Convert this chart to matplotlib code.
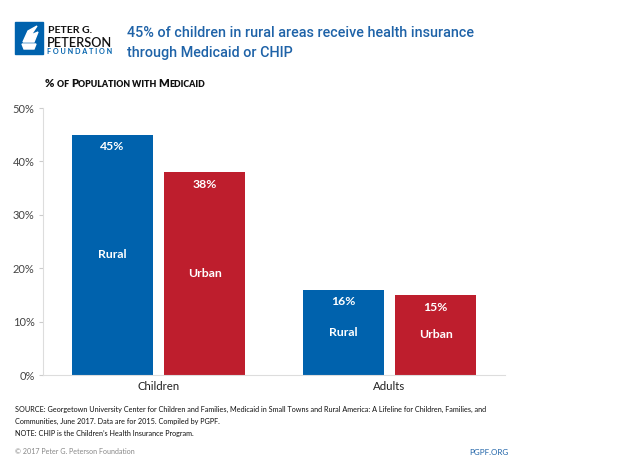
import matplotlib
matplotlib.use('Agg')
import matplotlib.pyplot as plt
from matplotlib.patches import Rectangle, Polygon

plt.rcParams['font.family'] = ['Lato', 'DejaVu Sans']

# data
groups = ['Children', 'Adults']
series = ['Rural', 'Urban']
rural = [45, 16]
urban = [38, 15]
yticks = [0, 10, 20, 30, 40, 50]
ytick_labels = ['0%', '10%', '20%', '30%', '40%', '50%']

BLUE = '#0062ad'
RED = '#be1e2d'
TITLE_BLUE = '#1f63a8'
GREY = '#444444'
W, H = 620, 465

fig = plt.figure(figsize=(6.2, 4.65), dpi=100)
ax = fig.add_axes([43 / W, 1 - 375 / H, 462 / W, 267 / H])
renderer = fig.canvas.get_renderer()


def fx(px):
    return px / W


def fy(px):
    return 1 - px / H


def fit(t, target):
    """Scale the font of t so its width is target pixels."""
    bb = t.get_window_extent(renderer)
    t.set_fontsize(t.get_fontsize() * target / bb.width)
    return t


xs = range(len(groups))
width = 0.35
off = 0.2
for vals, color, name, sign in ((rural, BLUE, 'Rural', -1), (urban, RED, 'Urban', 1)):
    pos = [x + sign * off for x in xs]
    ax.bar(pos, vals, width=width, color=color, zorder=2)
    for p, v in zip(pos, vals):
        ax.text(p, v - 2.3, '%d%%' % v, ha='center', va='center',
                color='white', fontsize=8.8, fontweight='bold')
        ax.text(p, v / 2.0, name, ha='center', va='center',
                color='white', fontsize=8.8, fontweight='bold')

ax.set_xlim(-0.5, 1.5)
ax.set_ylim(0, 50)
ax.set_yticks(yticks)
ax.set_yticklabels(ytick_labels, fontsize=8, color=GREY)
ax.set_xticks(list(xs))
ax.set_xticklabels(groups, fontsize=8.2, color='#222222')
ax.tick_params(axis='y', length=3, color='#cccccc', pad=3)
ax.tick_params(axis='x', length=0, pad=4)
for s in ('top', 'right'):
    ax.spines[s].set_visible(False)
ax.spines['left'].set_color('#dddddd')
ax.spines['bottom'].set_color('#dddddd')

# logo
fig.patches.append(Rectangle((fx(15), fy(54)), 28 / W, 32 / H,
                             transform=fig.transFigure, color=BLUE))
fig.patches.append(Polygon([(fx(22), fy(44)), (fx(36), fy(44)),
                            (fx(34), fy(49)), (fx(24), fy(49))],
                           closed=True, transform=fig.transFigure, color='white'))
fig.patches.append(Polygon([(fx(23), fy(42)), (fx(28), fy(31)),
                            (fx(37), fy(26)), (fx(31), fy(35)),
                            (fx(38), fy(32)), (fx(34), fy(42))],
                           closed=True, transform=fig.transFigure, color='white'))
fit(fig.text(fx(48), fy(33), 'PETER G.', fontsize=8, fontweight='bold',
             color='#111111', va='baseline'), 44)
fit(fig.text(fx(47), fy(47), 'PETERSON', fontsize=10, fontweight='semibold',
             color='#111111', va='baseline'), 65)
fit(fig.text(fx(47), fy(54), 'F O U N D A T I O N', fontsize=4.5,
             fontweight='bold', color=BLUE, va='baseline'), 65)

# title
t1 = fig.text(fx(127), fy(37),
              '45% of children in rural areas receive health insurance',
              fontsize=12, color=TITLE_BLUE, va='baseline', family='Roboto',
              fontweight='medium')
fit(t1, 348)
fig.text(fx(127), fy(57), 'through Medicaid or CHIP',
         fontsize=t1.get_fontsize(), color=TITLE_BLUE, va='baseline',
         family='Roboto', fontweight='medium')

# small caps subtitle
parts = [('% ', 9), ('OF ', 7), ('P', 9), ('OPULATION ', 7), ('WITH ', 7),
         ('M', 9), ('EDICAID', 7)]
texts = [fig.text(0, fy(87), txt, fontsize=size, fontweight='heavy',
                  color='#111111', va='baseline') for txt, size in parts]
total = sum(t.get_window_extent(renderer).width for t in texts)
x = 45.0
for t in texts:
    t.set_fontsize(t.get_fontsize() * 160 / total)
    t.set_x(fx(x))
    x += t.get_window_extent(renderer).width

# footer
src1 = fig.text(fx(15), fy(412),
                'SOURCE: Georgetown University Center for Children and Families, Medicaid in Small Towns and Rural America: A Lifeline for Children, Families, and',
                fontsize=6, color='#111111', va='baseline')
fit(src1, 472)
fs = src1.get_fontsize()
fig.text(fx(15), fy(424), 'Communities, June 2017. Data are for 2015. Compiled by PGPF.',
         fontsize=fs, color='#111111', va='baseline')
fig.text(fx(15), fy(436), 'NOTE: CHIP is the Children\u2019s Health Insurance Program.',
         fontsize=fs, color='#111111', va='baseline')
fit(fig.text(fx(15), fy(454), '\u00a9 2017 Peter G. Peterson Foundation',
             fontsize=6, color='#888888', va='baseline'), 121)
fit(fig.text(fx(508), fy(455), 'PGPF.ORG', fontsize=6.5, color=TITLE_BLUE,
             va='baseline', ha='right'), 39)

fig.savefig('out.png', dpi=100)
